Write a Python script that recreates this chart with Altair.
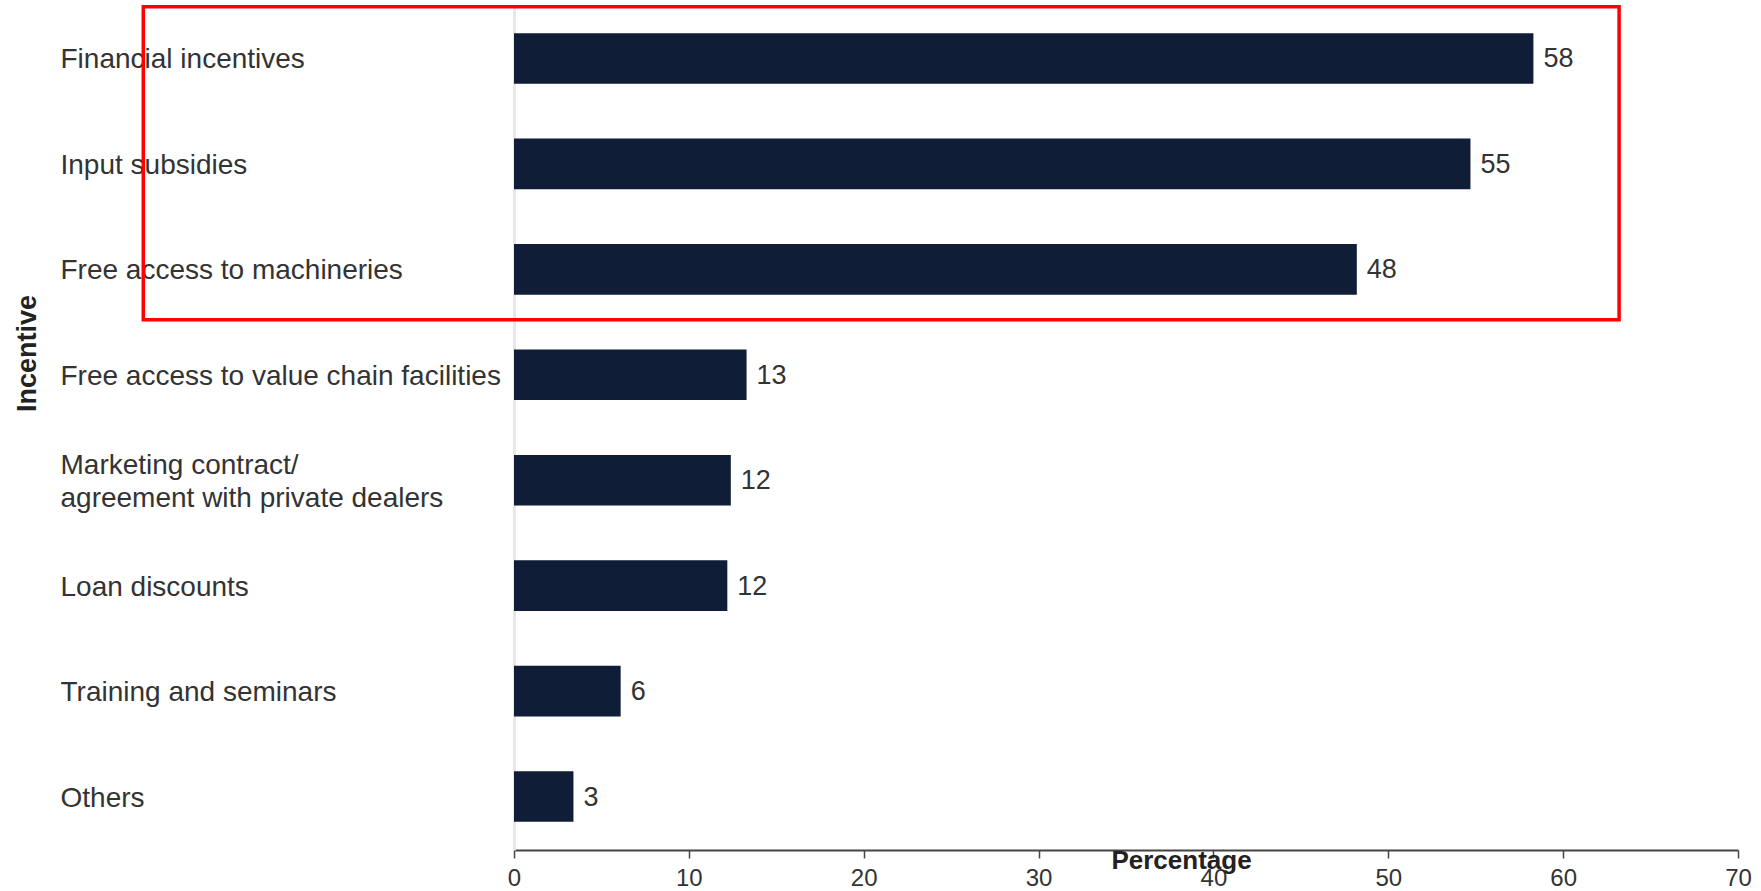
import altair as alt
import pandas as pd

# ---- data ----
incentives = [
    "Financial incentives",
    "Input subsidies",
    "Free access to machineries",
    "Free access to value chain facilities",
    "Marketing contract/ agreement with private dealers",
    "Loan discounts",
    "Training and seminars",
    "Others",
]
percentages = [58.3, 54.7, 48.2, 13.3, 12.4, 12.2, 6.1, 3.4]
x_ticks = [0, 10, 20, 30, 40, 50, 60, 70]

# highlighted group (red box) spans the first three incentives
highlight_first = incentives[0]
highlight_last = incentives[2]

df = pd.DataFrame({"Incentive": incentives, "Percentage": percentages})
box_df = pd.DataFrame({
    "x": [-21.2], "x2": [63.2],
    "y": [highlight_first], "y2": [highlight_last],
})

FONT = "Liberation Sans"
BAR = "#0f1d37"
MULTI = "Marketing contract/ agreement with private dealers"

yscale = alt.Scale(domain=incentives, paddingInner=0.52, paddingOuter=0.267)
xscale = alt.Scale(domain=[0, 70], nice=False, zero=True)

label_expr = (
    f"datum.value == '{MULTI}' ? "
    "['Marketing contract/', 'agreement with private dealers'] : datum.value"
)

y_axis = alt.Axis(
    title="Incentive", ticks=False, labelPadding=454, labelAlign="left",
    labelFont=FONT, labelFontSize=28, labelColor="#333", labelLimit=0,
    labelLineHeight=33, labelExpr=label_expr,
    labelOffset={"condition": {"test": f"datum.value == '{MULTI}'", "value": -14.5},
                 "value": 2},
    domainColor="#e8e8e8", domainWidth=3, grid=False,
    titleFont=FONT, titleFontSize=27, titleFontWeight="bold", titleColor="#222",
    titleAngle=-90, titleX=-479, titleY=348, titleBaseline="alphabetic",
    titleAlign="center",
)
x_axis = alt.Axis(
    title="Percentage", values=x_ticks, grid=False, labelFlush=False,
    labelFont=FONT, labelFontSize=24, labelColor="#333",
    tickSize=8, tickColor="#444", tickWidth=1.5, labelPadding=8,
    domainColor="#444", domainWidth=2,
    titleFont=FONT, titleFontSize=26, titleFontWeight="bold", titleColor="#222",
    titleX=667, titleY=18, titleBaseline="alphabetic", titleAlign="center",
)

bars = alt.Chart(df).mark_bar(color=BAR).encode(
    x=alt.X("Percentage:Q", scale=xscale, axis=x_axis),
    y=alt.Y("Incentive:N", scale=yscale, axis=y_axis),
)

labels = alt.Chart(df).mark_text(
    align="left", baseline="middle", dx=10, dy=1, fontSize=27, color="#333", font=FONT
).encode(
    x=alt.X("Percentage:Q", scale=xscale),
    y=alt.Y("Incentive:N", scale=yscale),
    text=alt.Text("Percentage:Q", format=".0f"),
)

box = alt.Chart(box_df).mark_rect(
    fillOpacity=0, stroke="#ff0000", strokeWidth=3.5, clip=False,
    yOffset=-26.4, y2Offset=25,
).encode(
    x=alt.X("x:Q", scale=xscale),
    x2="x2:Q",
    y=alt.Y("y:N", scale=yscale, bandPosition=0),
    y2=alt.Y2("y2:N", bandPosition=1),
)

chart = alt.layer(bars, labels, box).properties(
    width=1224, height=845,
    autosize=alt.AutoSizeParams(type="none"),
    padding={"left": 514, "top": 5, "right": 23, "bottom": 41},
    background="white",
).configure_view(stroke=None)

chart.save("out.html", embed_options={"renderer": "svg", "actions": False})
